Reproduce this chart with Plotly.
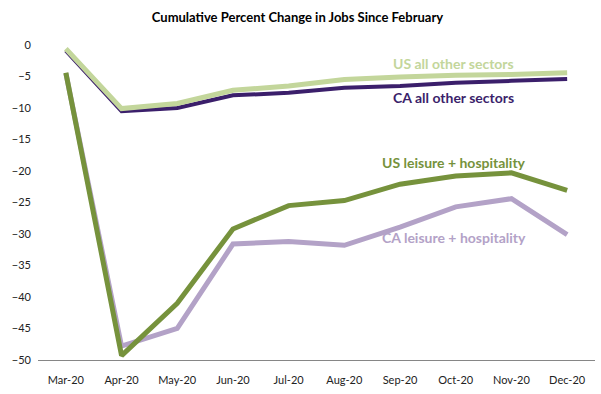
import plotly.graph_objects as go

months = ["Mar-20", "Apr-20", "May-20", "Jun-20", "Jul-20", "Aug-20", "Sep-20", "Oct-20", "Nov-20", "Dec-20"]
ca_other = [-0.9, -10.5, -10.0, -8.0, -7.6, -6.8, -6.5, -6.0, -5.7, -5.4]
us_other = [-0.6, -10.1, -9.3, -7.2, -6.5, -5.5, -5.1, -4.8, -4.7, -4.4]
ca_leisure = [-4.5, -47.8, -45.0, -31.6, -31.2, -31.8, -28.9, -25.7, -24.4, -30.1]
us_leisure = [-4.4, -49.3, -41.0, -29.2, -25.5, -24.7, -22.1, -20.8, -20.3, -23.1]
y_ticks = [0, -5, -10, -15, -20, -25, -30, -35, -40, -45, -50]

series = [
    ("CA all other sectors", ca_other, "#3b1f6b", 4),
    ("US all other sectors", us_other, "#c3d69b", 5),
    ("CA leisure + hospitality", ca_leisure, "#b3a2c7", 5),
    ("US leisure + hospitality", us_leisure, "#76923c", 5),
]

fig = go.Figure()
for name, vals, color, w in series:
    fig.add_trace(go.Scatter(x=months, y=vals, mode="lines", name=name,
                             line=dict(color=color, width=w)))

labels = [
    ("US all other sectors", months[7], -3.0, "#c3d69b"),
    ("CA all other sectors", months[7], -8.4, "#3b1f6b"),
    ("US leisure + hospitality", months[7], -18.6, "#76923c"),
    ("CA leisure + hospitality", months[7], -30.6, "#b3a2c7"),
]
for text, x, y, color in labels:
    fig.add_annotation(x=x, y=y, text="<b>" + text + "</b>", showarrow=False,
                       xshift=-2, font=dict(family="Lato", size=14, color=color))

fig.update_layout(
    width=601, height=394,
    margin=dict(l=38, r=6, t=38, b=34),
    paper_bgcolor="white", plot_bgcolor="white",
    showlegend=False,
    title=dict(text="<b>Cumulative Percent Change in Jobs Since February</b>",
               x=0.495, xanchor="center", y=0.955, yanchor="middle",
               font=dict(family="Lato", size=13, color="black")),
    font=dict(family="Lato", size=11, color="#222222"),
)
fig.update_xaxes(type="category", range=[-0.5, 9.5], showgrid=False,
                 showline=True, linecolor="#868686", linewidth=1,
                 ticks="", ticklabelstandoff=10, zeroline=False)
fig.update_yaxes(range=[-50, 1.1], tickvals=y_ticks, showgrid=False,
                 showline=False, zeroline=False, ticks="", ticklabelstandoff=6)

fig.write_html("out.html", config={"displayModeBar": False},
               post_script="document.body.style.margin='0';document.body.style.padding='0';")
